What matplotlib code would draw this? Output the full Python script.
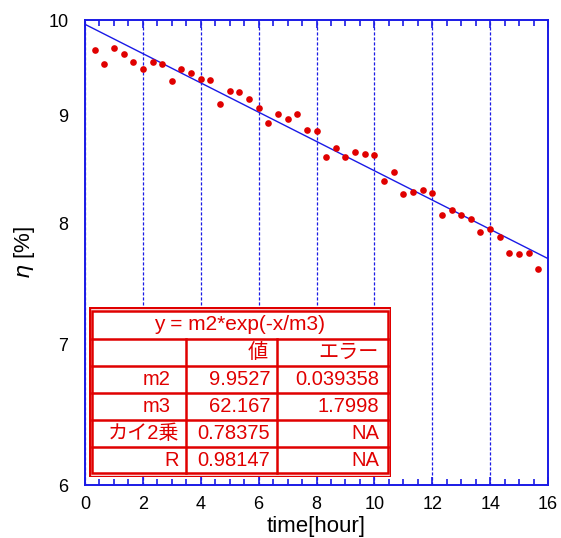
import numpy as np
import matplotlib
matplotlib.use("Agg")
import matplotlib.pyplot as plt
from matplotlib.ticker import FixedLocator, NullLocator, MultipleLocator, FormatStrFormatter

plt.rcParams['font.family'] = ['Liberation Sans', 'Noto Sans CJK JP', 'DejaVu Sans']

# measured data (time in hours, eta in %)
t = np.arange(1, 48) / 3.0
eta = [9.68, 9.53, 9.70, 9.63, 9.55, 9.48, 9.55, 9.53, 9.35, 9.48,
       9.43, 9.37, 9.36, 9.12, 9.25, 9.24, 9.17, 9.08, 8.93, 9.02,
       8.97, 9.02, 8.86, 8.85, 8.60, 8.69, 8.60, 8.65, 8.63, 8.62,
       8.38, 8.46, 8.26, 8.28, 8.30, 8.27, 8.07, 8.12, 8.07, 8.04,
       7.92, 7.95, 7.88, 7.74, 7.73, 7.74, 7.61]

# fit result  y = m2*exp(-x/m3)
m2, m3 = 9.9527, 62.167
table_rows = [("m2", "9.9527", "0.039358"),
              ("m3", "62.167", "1.7998"),
              ("カイ2乗", "0.78375", "NA"),
              ("R", "0.98147", "NA")]
fit_title = "y = m2*exp(-x/m3)"
col_heads = ("値", "エラー")

W, H = 561, 538
fig = plt.figure(figsize=(W / 100, H / 100), dpi=100)
ax = fig.add_axes([85 / W, (H - 485) / H, (548 - 85) / W, (485 - 20) / H])

blue = '#1a1ae6'
red = '#e00000'

xf = np.linspace(0, 16, 50)
ax.plot(xf, m2 * np.exp(-xf / m3), color=blue, lw=1.0, zorder=3)
ax.plot(t, eta, 'o', color=red, ms=4.8, mec='none', zorder=4)

ax.set_yscale('log')
ax.set_xlim(0, 16)
ax.set_ylim(6, 10)
ax.yaxis.set_major_locator(FixedLocator([6, 7, 8, 9, 10]))
ax.yaxis.set_major_formatter(FormatStrFormatter('%d'))
ax.yaxis.set_minor_locator(NullLocator())
ax.xaxis.set_major_locator(MultipleLocator(2))
ax.xaxis.set_minor_locator(MultipleLocator(0.5))
ax.tick_params(axis='y', length=0, labelsize=13, pad=12)
ax.tick_params(axis='x', which='both', direction='in', top=True, color=blue,
               labelsize=13, pad=8)
ax.tick_params(axis='x', which='major', length=6, width=1.2)
ax.tick_params(axis='x', which='minor', length=4.5, width=1.2)
for s in ax.spines.values():
    s.set_color(blue)
    s.set_linewidth(1.4)
ax.grid(axis='x', which='major', color=blue, ls=(0, (2.5, 1.5)), lw=0.9)

ax.set_xlabel('time[hour]', fontsize=16, labelpad=2)
ax.set_ylabel(r'$\eta$ [%]', fontsize=16, labelpad=8)

# fit result table
tx0, ty0, tw, th = 89, 307, 302, 170
tab = fig.add_axes([tx0 / W, (H - ty0 - th) / H, tw / W, th / H], zorder=5)
tab.set_xlim(0, tw)
tab.set_ylim(th, 0)
tab.axis('off')
tab.add_patch(plt.Rectangle((0, 0), tw, th, facecolor='white', edgecolor=red, lw=2.4))
tab.add_patch(plt.Rectangle((3.5, 4), tw - 7, th - 8, facecolor='none', edgecolor=red, lw=1.8))
row_y = [32, 59, 86, 113, 140]
for yy in row_y:
    tab.plot([3.5, tw - 3.5], [yy, yy], color=red, lw=1.8)
for xx in [97, 188]:
    tab.plot([xx, xx], [32, th - 4], color=red, lw=1.8)

fs = 14.5
tab.text(tw / 2, 18, fit_title, color=red, fontsize=fs + 0.5, ha='center', va='center')
tab.text(179, 45.5, col_heads[0], color=red, fontsize=fs, ha='right', va='center')
tab.text(290, 45.5, col_heads[1], color=red, fontsize=fs, ha='right', va='center')
centers = [72.5, 99.5, 126.5, 153]
for (name, val, err), cy in zip(table_rows, centers):
    nx = 90 if name in ("R", "カイ2乗") else 82
    tab.text(nx, cy, name, color=red, fontsize=fs, ha='right', va='center')
    tab.text(181, cy, val, color=red, fontsize=fs, ha='right', va='center')
    tab.text(290, cy, err, color=red, fontsize=fs, ha='right', va='center')

fig.savefig('out.png', dpi=100)
